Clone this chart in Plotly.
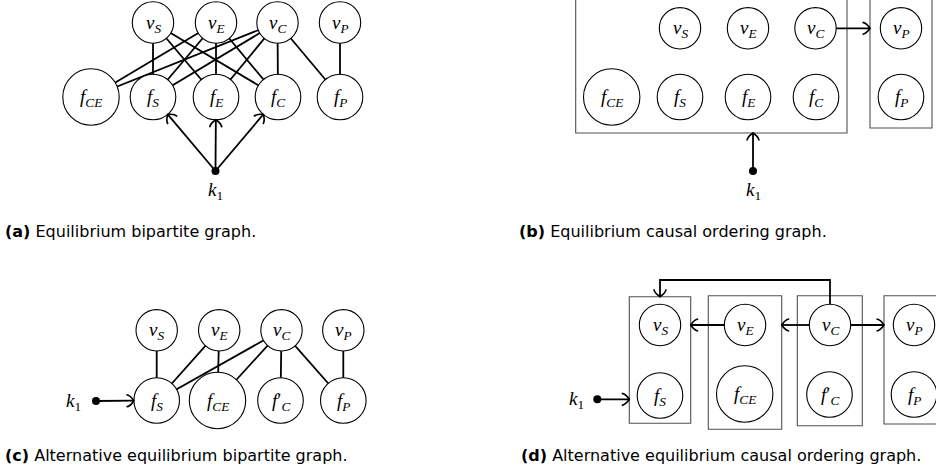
import math
import plotly.graph_objects as go

# ---------------- data (graph content) ----------------
# (a) equilibrium bipartite graph
a_vars = ["v_S", "v_E", "v_C", "v_P"]
a_eqs = ["f_CE", "f_S", "f_E", "f_C", "f_P"]
a_edges = [("v_S", "f_S"), ("v_S", "f_E"), ("v_S", "f_C"),
           ("v_E", "f_CE"), ("v_E", "f_S"), ("v_E", "f_E"), ("v_E", "f_C"),
           ("v_C", "f_CE"), ("v_C", "f_S"), ("v_C", "f_E"), ("v_C", "f_C"), ("v_C", "f_P"),
           ("v_P", "f_P")]
a_exo_targets = ["f_S", "f_E", "f_C"]

# (b) equilibrium causal ordering graph
b_nodes = ["v_S", "v_E", "v_C", "v_P", "f_CE", "f_S", "f_E", "f_C", "f_P"]
b_clusters = [["v_S", "v_E", "v_C", "f_CE", "f_S", "f_E", "f_C"], ["v_P", "f_P"]]
b_cluster_edges = [("v_C", 1)]
b_exo_cluster = 0

# (c) alternative equilibrium bipartite graph
c_vars = ["v_S", "v_E", "v_C", "v_P"]
c_eqs = ["f_S", "f_CE", "f'_C", "f_P"]
c_edges = [("v_S", "f_S"), ("v_E", "f_S"), ("v_E", "f_CE"), ("v_C", "f_S"),
           ("v_C", "f_CE"), ("v_C", "f'_C"), ("v_C", "f_P"), ("v_P", "f_P")]
c_exo_targets = ["f_S"]

# (d) alternative equilibrium causal ordering graph
d_clusters = [["v_S", "f_S"], ["v_E", "f_CE"], ["v_C", "f'_C"], ["v_P", "f_P"]]
d_cluster_edges = [("v_E", 0), ("v_C", 1), ("v_C", 3)]
d_routed_edges = [("v_C", 0)]
d_exo_cluster = 0

exo_label = "k_1"
captions = [("(a)", "Equilibrium bipartite graph."),
            ("(b)", "Equilibrium causal ordering graph."),
            ("(c)", "Alternative equilibrium bipartite graph."),
            ("(d)", "Alternative equilibrium causal ordering graph.")]

# ---------------- layout (positions / sizes) ----------------
R_V, R_F, R_BIG = 20.7, 22.8, 28.2
def radius(n):
    return R_BIG if n == "f_CE" else (R_V if n.startswith("v") else R_F)

pos_a = {"v_S": (153, 22.5), "v_E": (216, 22.5), "v_C": (277.5, 22.5), "v_P": (340, 22.5),
         "f_CE": (91, 97), "f_S": (153, 97), "f_E": (216, 97), "f_C": (278, 97), "f_P": (340, 97)}
exo_a = (215.5, 171)
pos_b = {"v_S": (680, 28.3), "v_E": (748, 28.3), "v_C": (815.5, 28.3), "v_P": (901, 28.3),
         "f_CE": (611.7, 97), "f_S": (680, 97), "f_E": (748, 97), "f_C": (816, 97), "f_P": (901, 97)}
rect_b = [(575.7, -3, 847, 133), (870, -3, 932, 128)]
exo_b = (753, 171)
pos_c = {"v_S": (156.7, 330.3), "v_E": (219.2, 330.3), "v_C": (281.5, 330.3), "v_P": (343.3, 330.3),
         "f_S": (156.7, 400.5), "f_CE": (217.5, 400.5), "f'_C": (280.5, 400.5), "f_P": (343.3, 400.5)}
exo_c = (96, 401)
pos_d = {"v_S": (660, 325), "v_E": (745, 325), "v_C": (830, 325), "v_P": (914, 325),
         "f_S": (660, 395.5), "f_CE": (744.7, 394), "f'_C": (829.5, 394.5), "f_P": (914, 394.5)}
rect_d = [(629.3, 296.7, 690.7, 423.3), (708.3, 295.7, 781.7, 429.3),
          (797.3, 295.7, 862.3, 425.7), (884, 295.7, 942, 424)]
route_y_d = 280
exo_d = (597.3, 399.3)
exo_label_pos = [(215.5, 191), (753, 191), (73, 401.5), (576, 399.5)]
caption_pos = [(3, 231), (517, 231), (3, 455), (519, 455)]

W, H = 936, 473
MATH_FONT = "Liberation Serif"
EDGE_W = 1.8

annots = []
edge_shapes, node_shapes, arrow_shapes = [], [], []


def seg(p, q, w=EDGE_W, lst=None):
    (lst if lst is not None else edge_shapes).append(dict(
        type="line", x0=p[0], y0=p[1], x1=q[0], y1=q[1], xref="x", yref="y",
        line=dict(color="black", width=w), layer="above"))


def head(tip, d, L=7.5, Wd=6.0):
    dx, dy = d
    nx, ny = -dy, dx
    tx, ty = tip
    pts = []
    for s in (1, -1):
        b = (tx - L * dx + s * Wd * nx, ty - L * dy + s * Wd * ny)
        c = (tx - 0.5 * L * dx + s * 0.95 * Wd * nx, ty - 0.5 * L * dy + s * 0.95 * Wd * ny)
        pts.append((b, c))
    (b1, c1), (b2, c2) = pts
    path = (f"M {b1[0]:.2f},{b1[1]:.2f} Q {c1[0]:.2f},{c1[1]:.2f} {tx:.2f},{ty:.2f} "
            f"Q {c2[0]:.2f},{c2[1]:.2f} {b2[0]:.2f},{b2[1]:.2f}")
    arrow_shapes.append(dict(type="path", path=path, xref="x", yref="y",
                             line=dict(color="black", width=1.7),
                             fillcolor="rgba(0,0,0,0)", layer="above"))


def unit(p, q):
    dx, dy = q[0] - p[0], q[1] - p[1]
    n = math.hypot(dx, dy)
    return dx / n, dy / n


def arrow(p, tip):
    seg(p, tip, lst=arrow_shapes)
    head(tip, unit(p, tip))


def arrow_to_node(p, c, r):
    d = unit(p, c)
    arrow(p, (c[0] - r * d[0], c[1] - r * d[1]))


def label_html(n):
    base, sub = n.split("_")
    prime = base.endswith("'")
    base = base.rstrip("'")
    if prime:
        return f"<i>{base}</i>′<sub><i>{sub}</i></sub>"
    return f"<i>{base}</i><sub><i>{sub}</i></sub>"


def node(n, c):
    r = radius(n)
    node_shapes.append(dict(type="circle", x0=c[0] - r, y0=c[1] - r, x1=c[0] + r, y1=c[1] + r,
                            xref="x", yref="y", fillcolor="white",
                            line=dict(color="black", width=1.1), layer="above"))
    annots.append(dict(x=c[0], y=c[1] + 1, text=label_html(n), showarrow=False, xref="x", yref="y",
                       font=dict(family=MATH_FONT, size=19, color="black"),
                       xanchor="center", yanchor="middle"))


def rect(b):
    node_shapes.append(dict(type="rect", x0=b[0], y0=b[1], x1=b[2], y1=b[3], xref="x", yref="y",
                            line=dict(color="#505050", width=1.1), fillcolor="rgba(0,0,0,0)",
                            layer="above"))


# ---- (a)
for u, v in a_edges:
    seg(pos_a[u], pos_a[v])
for n in a_vars + a_eqs:
    node(n, pos_a[n])
for t in a_exo_targets:
    arrow_to_node(exo_a, pos_a[t], radius(t))

# ---- (b)
for b in rect_b:
    rect(b)
for n in b_nodes:
    node(n, pos_b[n])
for v, k in b_cluster_edges:
    c = pos_b[v]
    arrow((c[0] + radius(v), c[1]), (rect_b[k][0], c[1]))
arrow(exo_b, (exo_b[0], rect_b[b_exo_cluster][3]))

# ---- (c)
for u, v in c_edges:
    seg(pos_c[u], pos_c[v])
for n in c_vars + c_eqs:
    node(n, pos_c[n])
for t in c_exo_targets:
    arrow_to_node(exo_c, pos_c[t], radius(t))

# ---- (d)
for b in rect_d:
    rect(b)
for cl in d_clusters:
    for n in cl:
        node(n, pos_d[n])
for v, k in d_cluster_edges:
    c = pos_d[v]
    bx = rect_d[k]
    if bx[0] > c[0]:
        arrow((c[0] + radius(v), c[1]), (bx[0], c[1]))
    else:
        arrow((c[0] - radius(v), c[1]), (bx[2], c[1]))
for v, k in d_routed_edges:
    c = pos_d[v]
    tx = pos_d[d_clusters[k][0]][0]
    ty = rect_d[k][1]
    arrow_shapes.append(dict(type="path", xref="x", yref="y",
                             path=f"M {c[0]},{c[1] - radius(v)} L {c[0]},{route_y_d} L {tx},{route_y_d} L {tx},{ty}",
                             line=dict(color="black", width=EDGE_W), fillcolor="rgba(0,0,0,0)",
                             layer="above"))
    head((tx, ty), (0, 1))
arrow(exo_d, (rect_d[d_exo_cluster][0], exo_d[1]))

# exogenous labels
kb, ks = exo_label.split("_")
for (x, y) in exo_label_pos:
    annots.append(dict(x=x, y=y, text=f"<i>{kb}</i><sub>{ks}</sub>", showarrow=False,
                       xref="x", yref="y", font=dict(family=MATH_FONT, size=19, color="black"),
                       xanchor="center", yanchor="middle"))

# captions
for (tag, txt), (x, y) in zip(captions, caption_pos):
    annots.append(dict(x=x, y=y, text=f"<b>{tag}</b> {txt}", showarrow=False, xref="x", yref="y",
                       font=dict(family="DejaVu Sans", size=16, color="black"),
                       xanchor="left", yanchor="middle"))

exo_pts = [exo_a, exo_b, exo_c, exo_d]
fig = go.Figure(go.Scatter(x=[p[0] for p in exo_pts], y=[p[1] for p in exo_pts], mode="markers",
                           marker=dict(color="black", size=8), hoverinfo="skip", showlegend=False))

fig.update_layout(
    width=W, height=H, margin=dict(l=0, r=0, t=0, b=0),
    paper_bgcolor="white", plot_bgcolor="white",
    xaxis=dict(range=[0, W], visible=False, fixedrange=True),
    yaxis=dict(range=[H, 0], visible=False, fixedrange=True),
    shapes=edge_shapes + node_shapes + arrow_shapes,
    annotations=annots, showlegend=False,
)
fig.write_html("out.html", config={"displayModeBar": False},
               post_script="document.body.style.margin='0';document.body.style.overflow='hidden';")
